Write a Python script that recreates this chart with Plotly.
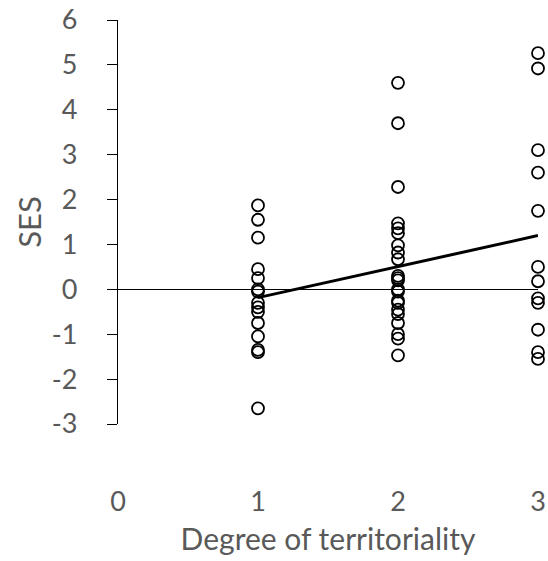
import numpy as np
import plotly.graph_objects as go

# Data
territoriality_1 = [1.87, 1.55, 1.15, 0.45, 0.25, 0.0, -0.05, -0.3, -0.4, -0.5, -0.75, -1.05, -1.35, -1.4, -2.65]
territoriality_2 = [4.6, 3.7, 2.28, 1.47, 1.36, 1.25, 0.98, 0.82, 0.67, 0.3, 0.25, 0.2, 0.0, -0.05,
                    -0.25, -0.3, -0.45, -0.55, -0.75, -1.0, -1.1, -1.47]
territoriality_3 = [5.26, 4.92, 3.1, 2.6, 1.75, 0.5, 0.18, -0.2, -0.3, -0.9, -1.4, -1.55]
x_ticks = [0, 1, 2, 3]
x_tick_labels = ["0", "1", "2", "3"]
y_ticks = [-3, -2, -1, 0, 1, 2, 3, 4, 5, 6]
y_tick_labels = ["-3", "-2", "-1", "0", "1", "2", "3", "4", "5", "6"]

xs = [1] * len(territoriality_1) + [2] * len(territoriality_2) + [3] * len(territoriality_3)
ys = territoriality_1 + territoriality_2 + territoriality_3

slope, intercept = np.polyfit(xs, ys, 1)
fit_x = [1, 3]
fit_y = [intercept + slope * v for v in fit_x]

fig = go.Figure()
fig.add_trace(go.Scatter(
    x=xs, y=ys, mode="markers",
    marker=dict(symbol="circle-open", size=12, color="black", line=dict(width=1.8, color="black")),
    cliponaxis=False, showlegend=False,
))
fig.add_trace(go.Scatter(
    x=fit_x, y=fit_y, mode="lines",
    line=dict(color="black", width=3),
    cliponaxis=False, showlegend=False,
))

font_color = "#595959"
fig.update_layout(
    width=548, height=561,
    margin=dict(l=118, r=10, t=20, b=137),
    paper_bgcolor="white", plot_bgcolor="white",
    font=dict(family="Lato, Open Sans, sans-serif", size=27, color=font_color),
    xaxis=dict(
        range=[0, 3], tickvals=x_ticks, ticktext=x_tick_labels,
        showgrid=False, zeroline=False, showline=False, automargin=False,
        ticks="outside", ticklen=54, tickcolor="rgba(0,0,0,0)",
        title=dict(text="Degree of territoriality", standoff=12,
                   font=dict(family="Lato, Open Sans, sans-serif", size=30, color=font_color)),
        tickfont=dict(size=27, color=font_color),
    ),
    yaxis=dict(
        range=[-3, 6], tickvals=y_ticks, ticktext=y_tick_labels, showgrid=False,
        zeroline=True, zerolinecolor="black", zerolinewidth=1.2,
        showline=True, linecolor="black", linewidth=1.2, automargin=False,
        ticks="outside", ticklen=10, tickcolor="black", tickwidth=1.2,
        ticklabelstandoff=24,
        title=dict(text="SES", standoff=0,
                   font=dict(family="Lato, Open Sans, sans-serif", size=31, color=font_color)),
        tickfont=dict(size=27, color=font_color),
    ),
)

fig.write_html("out.html", config={"displayModeBar": False},
               post_script="document.body.style.margin='0';document.body.style.overflow='hidden';")
